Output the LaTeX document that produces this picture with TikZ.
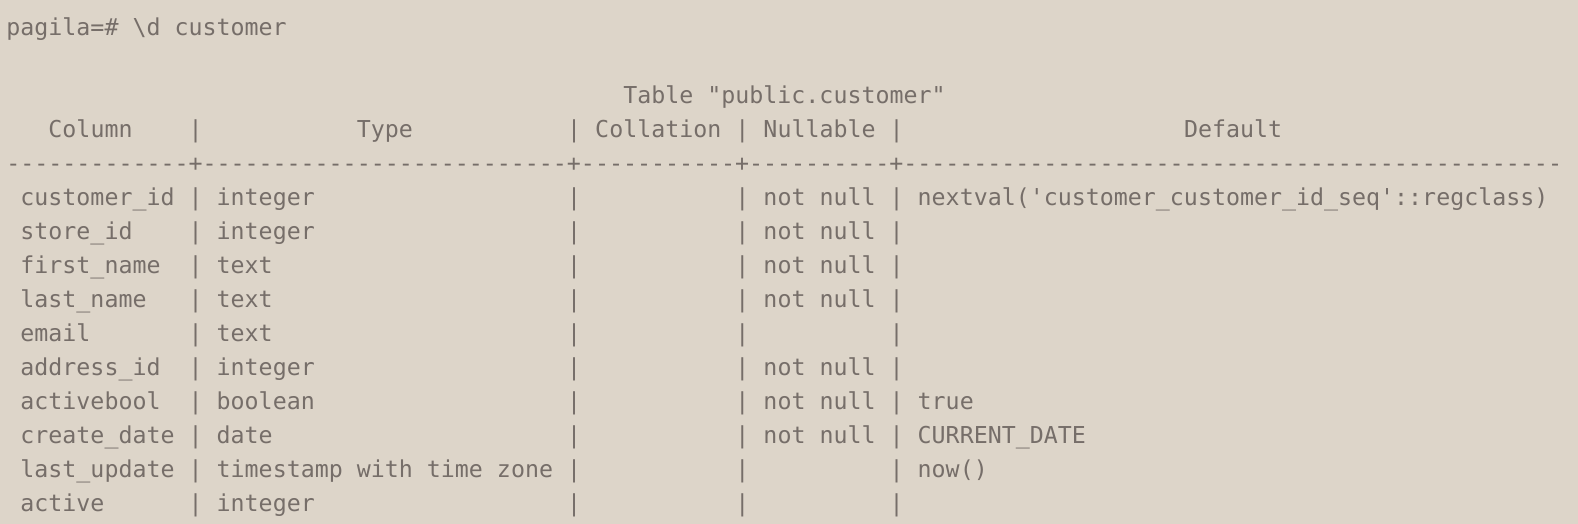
\documentclass[tikz,border=0pt]{standalone}
\usepackage{fontspec}
\setmonofont{DejaVu Sans Mono}
\definecolor{termbg}{RGB}{221, 213, 201}
\definecolor{termfg}{RGB}{118, 110, 105}
\ExplSyntaxOn
\NewDocumentCommand\dashes{m}{\prg_replicate:nn{#1}{-}}
\ExplSyntaxOff

\begin{document}
\begin{tikzpicture}[x=7.01pt, y=-16.99pt,
  cell/.style={anchor=base west, inner sep=0pt, text=termfg, font=\ttfamily\fontsize{11.64pt}{16.99pt}\selectfont}]
  % terminal background
  \fill[termbg] (-3pt, 18pt) rectangle (786pt, -244pt);
  \useasboundingbox (-3pt, 18pt) rectangle (786pt, -244pt);

  % prompt and title
  \node[cell] (prompt) at (0, 0) {pagila=\# \textbackslash d customer};
  \node[cell] (title) at (44, 2) {Table "public.customer"};

  % header
  \node[cell] (hdr-column) at (3, 3) {Column};
  \node[cell] (hdr-type) at (25, 3) {Type};
  \node[cell] (hdr-collation) at (42, 3) {Collation};
  \node[cell] (hdr-nullable) at (54, 3) {Nullable};
  \node[cell] (hdr-default) at (84, 3) {Default};
  \foreach \c in {13, 40, 52, 63}
    \node[cell, name=bar-3-\c] at (\c, 3) {|};
  \node[cell] (rule) at (0, 4) {\dashes{13}+\dashes{26}+\dashes{11}+\dashes{10}+\dashes{47}};

  % rows
  \foreach \colname/\coltype/\colnull/\coldefault [count=\r from 5] in {
      customer\_id/integer/not null/nextval('customer\_customer\_id\_seq'::regclass),
      store\_id/integer/not null/,
      first\_name/text/not null/,
      last\_name/text/not null/,
      email/text//,
      address\_id/integer/not null/,
      activebool/boolean/not null/true,
      create\_date/date/not null/CURRENT\_DATE,
      last\_update/timestamp with time zone//now(),
      active/integer//} {
    \node[cell, name=name-\r] at (1, \r) {\colname};
    \node[cell, name=type-\r] at (15, \r) {\coltype};
    \node[cell, name=null-\r] at (54, \r) {\colnull};
    \node[cell, name=default-\r] at (65, \r) {\coldefault};
    \foreach \c in {13, 40, 52, 63}
      \node[cell, name=bar-\r-\c] at (\c, \r) {|};
  }
\end{tikzpicture}
\end{document}
